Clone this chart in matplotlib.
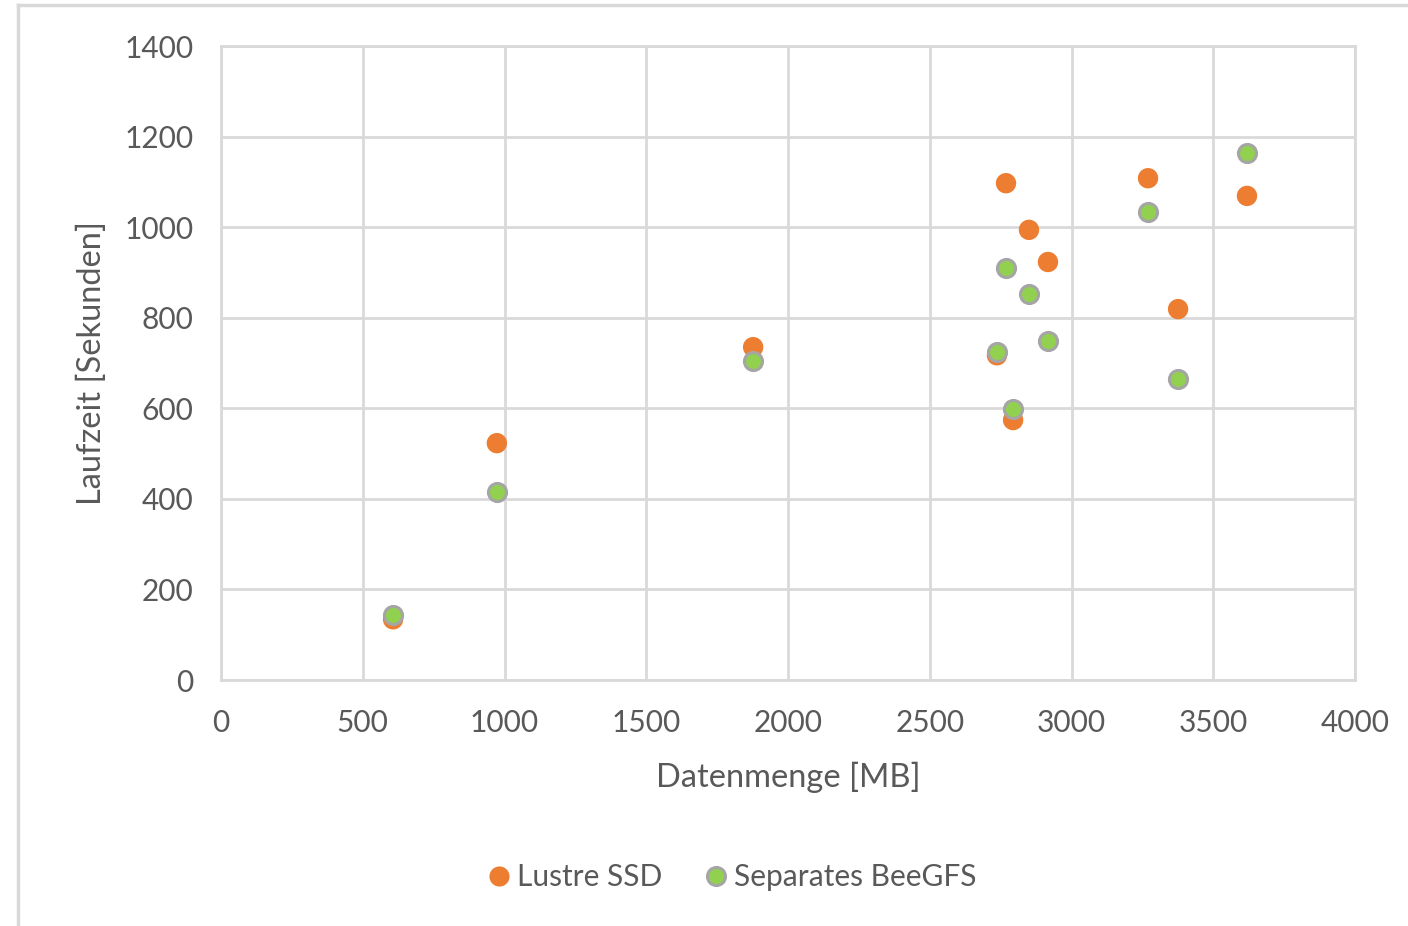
import matplotlib.pyplot as plt
from matplotlib.lines import Line2D

# Data
datenmenge = [607, 973, 1877, 2737, 2769, 2794, 2850, 2917, 3270, 3376, 3619]
lustre_ssd = [134, 523, 735, 717, 1097, 574, 994, 923, 1108, 819, 1069]
beegfs = [143, 415, 704, 724, 910, 598, 852, 749, 1033, 665, 1164]

xticks = [0, 500, 1000, 1500, 2000, 2500, 3000, 3500, 4000]
yticks = [0, 200, 400, 600, 800, 1000, 1200, 1400]

# Styles
orange = '#ED7D31'
green = '#92D050'
edge = '#A5A5A5'
gridc = '#D9D9D9'
textc = '#595959'
plt.rcParams['font.family'] = ['Lato', 'DejaVu Sans']

fig = plt.figure(figsize=(14.08, 9.26), dpi=100)
ax = fig.add_axes([221/1408, 1-680/926, (1355-221)/1408, (680-46)/926])

ax.scatter(datenmenge, lustre_ssd, s=215, c=orange, edgecolors='none', zorder=3)
ax.scatter(datenmenge, beegfs, s=170, c=green, edgecolors=edge, linewidths=2.2, zorder=4)

ax.set_xlim(0, 4000)
ax.set_ylim(0, 1400)
ax.set_xticks(xticks)
ax.set_yticks(yticks)
ax.grid(True, color=gridc, linewidth=2)
ax.set_axisbelow(True)
for s in ax.spines.values():
    s.set_color(gridc)
    s.set_linewidth(2)
ax.tick_params(length=0, labelsize=21.5, labelcolor=textc)
ax.tick_params(axis='y', pad=20)
ax.tick_params(axis='x', pad=21)

ax.set_xlabel('Datenmenge [MB]', fontsize=23.5, color=textc, labelpad=18)
ax.set_ylabel('Laufzeit [Sekunden]', fontsize=23.5, color=textc, labelpad=12)

# Legend
handles = [
    Line2D([], [], marker='o', linestyle='none', markersize=14.5, markerfacecolor=orange, markeredgecolor='none'),
    Line2D([], [], marker='o', linestyle='none', markersize=13, markerfacecolor=green, markeredgecolor=edge, markeredgewidth=2.2),
]
fig.legend(handles, ['Lustre SSD', 'Separates BeeGFS'], loc='center', bbox_to_anchor=(730/1408, 1-877/926),
           ncol=2, frameon=False, fontsize=21.5, labelcolor=textc, handletextpad=0.1, columnspacing=1.3,
           handlelength=1.0)

# Outer frame (top and left edges visible)
fig.add_artist(Line2D([18/1408, 1], [1-5/926, 1-5/926], color=gridc, linewidth=2.5))
fig.add_artist(Line2D([18/1408, 18/1408], [0, 1-5/926], color=gridc, linewidth=2.5))

fig.savefig('out.png', dpi=100)
